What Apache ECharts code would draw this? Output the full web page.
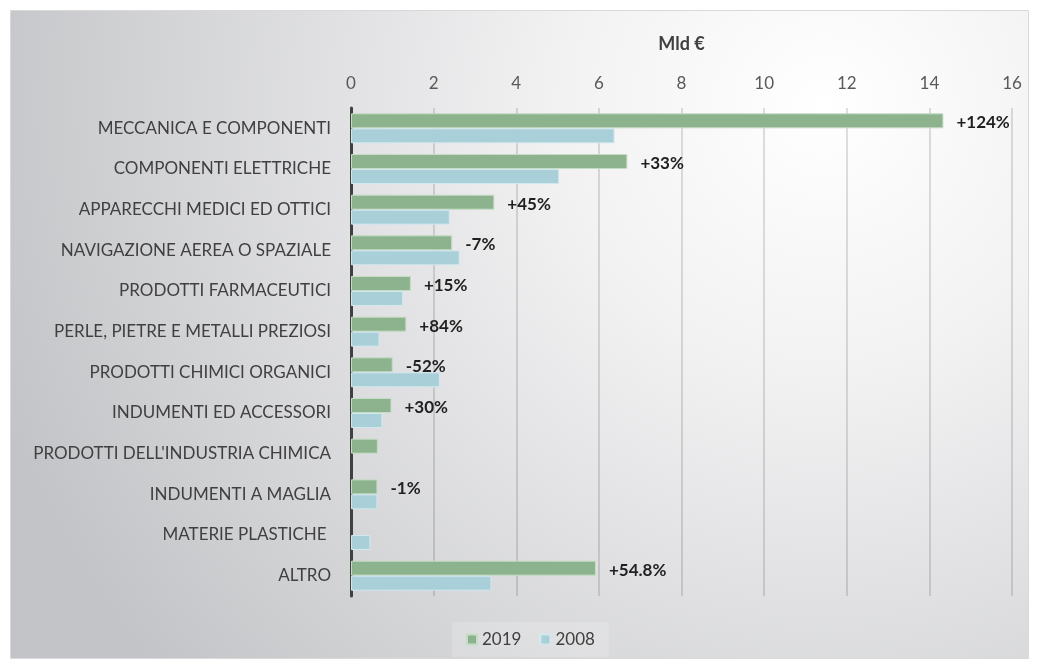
<!DOCTYPE html>
<html>
<head>
<meta charset="utf-8">
<script src="https://cdn.jsdelivr.net/npm/echarts@6/dist/echarts.min.js"></script>
<style>
  html, body { margin: 0; padding: 0; background: #ffffff; }
  #chart { width: 1039px; height: 669px; }
</style>
</head>
<body>
<div id="chart"></div>
<script>
// settori (dall'alto verso il basso)
const categories = [
  'MECCANICA E COMPONENTI',
  'COMPONENTI ELETTRICHE',
  'APPARECCHI MEDICI ED OTTICI',
  'NAVIGAZIONE AEREA O SPAZIALE',
  'PRODOTTI FARMACEUTICI',
  'PERLE, PIETRE E METALLI PREZIOSI',
  'PRODOTTI CHIMICI ORGANICI',
  'INDUMENTI ED ACCESSORI',
  "PRODOTTI DELL'INDUSTRIA CHIMICA",
  'INDUMENTI A MAGLIA',
  'MATERIE PLASTICHE ',
  'ALTRO',
]

// Mld €
const values2019 = [14.34, 6.69, 3.47, 2.45, 1.45, 1.34, 1.01, 0.98, 0.65, 0.64, null, 5.93]
const values2008 = [6.38, 5.04, 2.39, 2.63, 1.26, 0.69, 2.15, 0.76, null, 0.64, 0.47, 3.40]

// variazione 2008-2019
const changeLabels = ['+124%', '+33%', '+45%', '-7%', '+15%', '+84%', '-52%', '+30%', '', '-1%', '', '+54.8%']

const xTicks = { min: 0, max: 16, interval: 2 }

const chart = echarts.init(document.getElementById('chart'))
const font = 'Lato, "Open Sans", sans-serif'

chart.setOption({
  backgroundColor: '#ffffff',
  textStyle: { fontFamily: font },
  graphic: [
    {
      type: 'rect',
      z: -10,
      silent: true,
      shape: { x: 10.5, y: 10.5, width: 1018, height: 648 },
      style: {
        stroke: '#d9d9d9',
        lineWidth: 1,
        fill: {
          type: 'radial',
          x: 0.8,
          y: 0.15,
          r: 1.35,
          colorStops: [
            { offset: 0, color: '#ffffff' },
            { offset: 0.3, color: '#f2f2f3' },
            { offset: 1, color: '#c3c4c7' },
          ],
        },
      },
    },
  ],
  legend: {
    bottom: 12,
    left: 452,
    itemWidth: 10,
    itemHeight: 10,
    itemGap: 18,
    icon: 'rect',
    padding: [9, 14],
    backgroundColor: 'rgba(255,255,255,0.18)',
    textStyle: { color: '#404040', fontSize: 17, fontFamily: font },
    data: ['2019', '2008'],
  },
  grid: { left: 351, right: 27, top: 108, bottom: 73 },
  xAxis: {
    type: 'value',
    position: 'top',
    min: xTicks.min,
    max: xTicks.max,
    interval: xTicks.interval,
    name: 'Mld €',
    nameLocation: 'middle',
    nameGap: 55,
    nameTextStyle: { color: '#404040', fontWeight: 'bold', fontSize: 18, fontFamily: font },
    axisLine: { show: false },
    axisTick: { show: false },
    axisLabel: { color: '#595959', fontSize: 17, margin: 16 },
    splitLine: { lineStyle: { color: 'rgba(0,0,0,0.17)', width: 1.5 } },
  },
  yAxis: {
    type: 'category',
    inverse: true,
    data: categories,
    axisTick: { show: false },
    axisLine: { lineStyle: { color: '#404040', width: 3 } },
    axisLabel: { color: '#404040', fontSize: 17, margin: 20 },
  },
  series: [
    {
      name: '2019',
      type: 'bar',
      data: values2019,
      barWidth: 15,
      barGap: '0%',
      itemStyle: { color: '#8cb38d', borderColor: '#c5dcc5', borderWidth: 1 },
      label: {
        show: true,
        position: 'right',
        distance: 13,
        offset: [0, 2],
        color: '#1f1f1f',
        fontWeight: 'bold',
        fontSize: 17,
        fontFamily: font,
        formatter: (p) => changeLabels[p.dataIndex],
      },
    },
    {
      name: '2008',
      type: 'bar',
      data: values2008,
      barWidth: 15,
      barGap: '0%',
      itemStyle: { color: '#a9cfd9', borderColor: '#d3e8ee', borderWidth: 1 },
    },
  ],
})
</script>
</body>
</html>
